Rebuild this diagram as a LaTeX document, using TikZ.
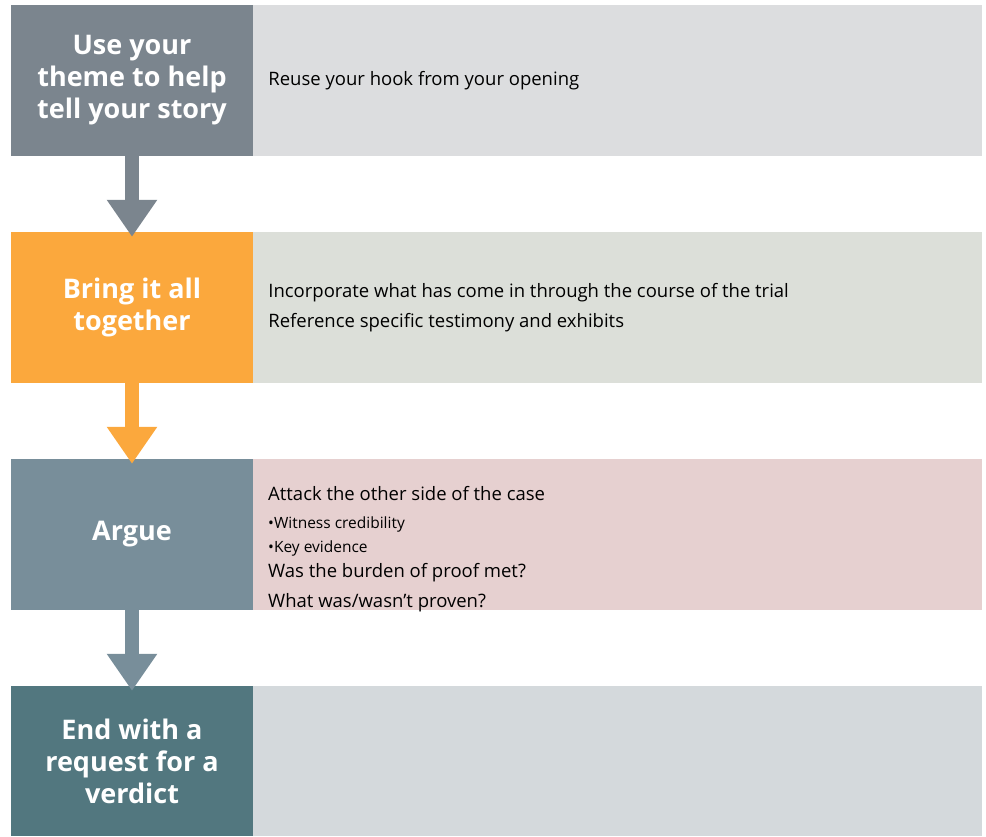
\documentclass[tikz,border=0pt]{standalone}
\usepackage{fontspec}
\setmainfont{Open Sans}
\usetikzlibrary{arrows.meta}
\definecolor{themegray}{HTML}{7B858E}
\definecolor{themeorange}{HTML}{FBA83D}
\definecolor{themeslate}{HTML}{788E9A}
\definecolor{themeteal}{HTML}{52777F}
\definecolor{panelgray}{HTML}{DCDDDF}
\definecolor{panelsage}{HTML}{DCDFD9}
\definecolor{panelrose}{HTML}{E6D0D0}
\definecolor{panelblue}{HTML}{D4D9DC}

\begin{document}
\begin{tikzpicture}[x=1pt,y=-1pt,
                    stage/.style={rectangle,minimum width=242pt,minimum height=151pt,inner sep=0pt,
                                  text=white,align=center,font=\bfseries\fontsize{27}{32}\selectfont},
                    panel/.style={rectangle,minimum width=729pt,minimum height=151pt,inner sep=0pt},
                    note/.style={align=left,inner sep=0pt,font=\fontsize{18.5}{30}\selectfont},
                    flow/.style={line width=14pt,-{Triangle[width=48pt,length=37pt]}}
                ]
    \useasboundingbox (0,0) rectangle (986,836);
    % stages on the left
    \node[stage,fill=themegray] (S1) at (132,80.5) {Use your\\theme to help\\tell your story};
    \node[stage,fill=themeorange] (S2) at (132,307.5) {Bring it all\\together};
    \node[stage,fill=themeslate] (S3) at (132,534.5) {Argue};
    \node[stage,fill=themeteal,minimum height=150pt] (S4) at (132,761) {End with a\\request for a\\verdict};
    % panels on the right
    \node[panel,fill=panelgray,anchor=west] (P1) at (S1.east) {};
    \node[panel,fill=panelsage,anchor=west] (P2) at (S2.east) {};
    \node[panel,fill=panelrose,anchor=west] (P3) at (S3.east) {};
    \node[panel,fill=panelblue,anchor=west,minimum height=150pt] (P4) at (S4.east) {};
    % panel texts
    \node[note,anchor=west] (N1) at ([xshift=15pt]P1.west) {Reuse your hook from your opening};
    \node[note,anchor=west] (N2) at ([xshift=15pt]P2.west) {Incorporate what has come in through the course of the trial\\
        Reference specific testimony and exhibits};
    \node[note,anchor=north west,font=\fontsize{18.5}{24}\selectfont] (N3) at (268,486) {Attack the other side of the case\\[4pt]
        {\fontsize{15.5}{18}\selectfont •Witness credibility}\\
        {\fontsize{15.5}{18}\selectfont •Key evidence}\\[1pt]
        Was the burden of proof met?\\[6pt]
        What was/wasn’t proven?};
    % arrows between stages
    \foreach \a/\b/\c in {S1/S2/themegray,S2/S3/themeorange,S3/S4/themeslate}
        {
        \draw[flow,\c] (\a.south) -- ([yshift=-5pt]\b.north);
        }
\end{tikzpicture}
\end{document}
